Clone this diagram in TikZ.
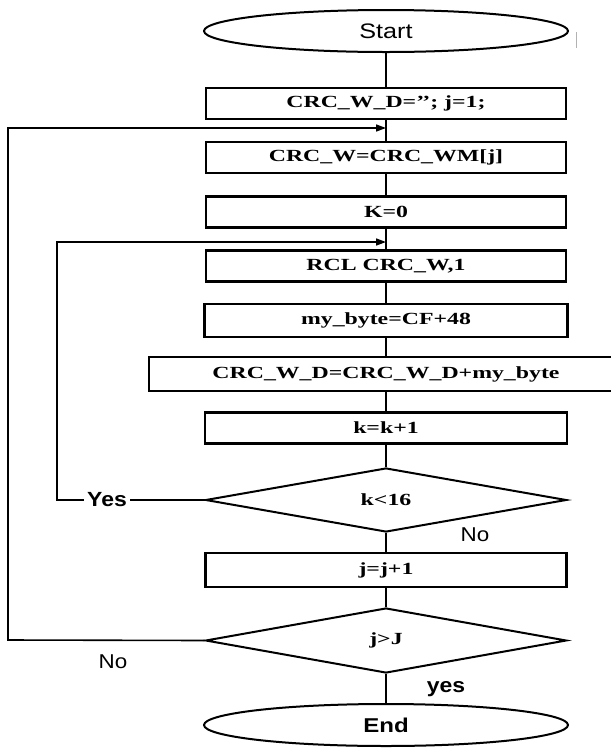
\documentclass[tikz,border=0pt]{standalone}
\usepackage{fontspec}
\setmainfont{Liberation Serif}
\newfontfamily\boxfont{Liberation Serif}[FakeStretch=1.4]
\newfontfamily\labfont{Liberation Sans}[FakeStretch=1.12]
\newfontfamily\termfont{Liberation Sans}[FakeStretch=1.2]
\usetikzlibrary{shapes.geometric,arrows.meta}
\tikzset{
  proc/.style={draw, line width=2.4pt, rectangle, minimum width=360pt, minimum height=31pt, inner sep=0pt,
    font=\boxfont\bfseries\fontsize{17}{19}\selectfont},
  dec/.style={draw, line width=2pt, diamond, minimum width=361pt, minimum height=64pt, inner sep=0pt,
    font=\boxfont\bfseries\fontsize{17}{19}\selectfont},
  term/.style={draw, line width=2pt, ellipse, minimum width=364pt, minimum height=42pt, inner sep=0pt},
  conn/.style={line width=1.8pt},
  arr/.style={conn, -{Triangle[length=10pt,width=7pt]}},
  lab/.style={inner sep=2pt, font=\labfont\fontsize{20}{22}\selectfont},
  labb/.style={inner sep=2pt, font=\labfont\bfseries\fontsize{20.5}{22}\selectfont}
}
\begin{document}
\begin{tikzpicture}[x=1pt,y=-1pt]
\useasboundingbox (0,0) rectangle (611,748);
\node[term, font=\termfont\fontsize{21}{23}\selectfont] (start) at (386,31) {Start};
\node[proc] (b1) at (386,103.5) {CRC\_W\_D=’’; j=1;};
\node[proc] (b2) at (386,157.5) {CRC\_W=CRC\_WM[j]};
\node[proc] (b3) at (386,212) {K=0};
\node[proc] (b4) at (386,266) {RCL CRC\_W,1};
\node[proc, minimum width=363pt, minimum height=33pt] (b5) at (386,320.5) {my\_byte=CF+48};
\node[proc, minimum width=474pt, minimum height=34pt] (b6) at (386,374) {CRC\_W\_D=CRC\_W\_D+my\_byte};
\node[proc, minimum width=362pt] (b7) at (386,428) {k=k+1};
\node[dec] (d1) at (386,500) {k<16};
\node[proc, minimum width=361pt, minimum height=34pt] (b8) at (386,570) {j=j+1};
\node[dec, minimum height=65pt] (d2) at (386,640.5) {j>J};
\node[term, font=\termfont\bfseries\fontsize{20}{22}\selectfont] (end) at (386,725) {End};

\node[labb, inner sep=3pt] (yes1) at (107,500) {Yes};
\node[lab] (no1) at (475,535) {No};
\node[lab] (no2) at (113,662) {No};
\node[labb] (yes2) at (446,689) {yes};

\coordinate (m1) at (386,128);
\coordinate (m2) at (386,242);
\coordinate (c1) at (8,640);
\coordinate (c2) at (57,500);

\draw[conn] (start) -- (b1);
\draw[conn] (b1) -- (b2);
\draw[conn] (b2) -- (b3);
\draw[conn] (b3) -- (b4);
\draw[conn] (b4) -- (b5);
\draw[conn] (b5) -- (b6);
\draw[conn] (b6) -- (b7);
\draw[conn] (b7) -- (d1);
\draw[conn] (d1) -- (b8);
\draw[conn] (b8) -- (d2);
\draw[conn] (d2) -- (end);

\draw[arr, line width=1.6pt] (d2.west) -- (c1) |- (m1);
\draw[conn, line width=1.6pt] (d1.west) -- (yes1.east);
\draw[arr, line width=1.6pt] (yes1.west) -- (c2) |- (m2);

\draw[gray!60, line width=1pt] (576,32) -- (576,48);
\end{tikzpicture}
\end{document}
